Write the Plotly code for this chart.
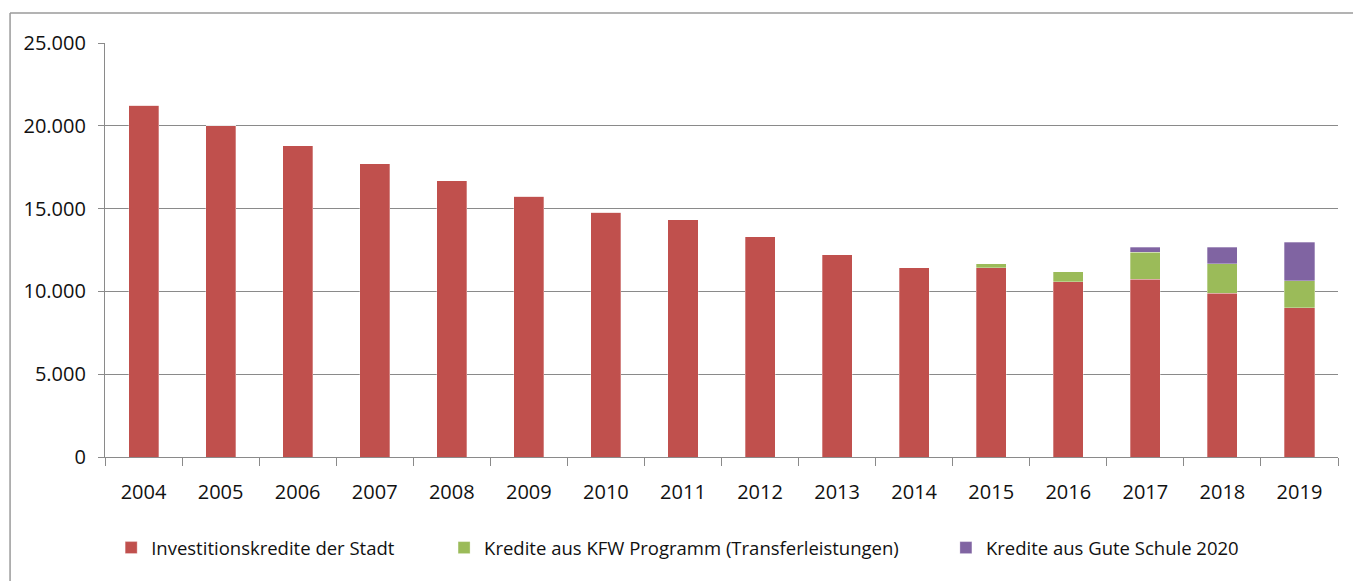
import plotly.graph_objects as go

years = [str(y) for y in range(2004, 2020)]
investitionskredite = [21250, 20000, 18800, 17700, 16680, 15740, 14790, 14330, 13290, 12200, 11430,
                       11430, 10570, 10730, 9880, 9000]
kfw = [0, 0, 0, 0, 0, 0, 0, 0, 0, 0, 0,
       250, 620, 1630, 1800, 1650]
gute_schule = [0, 0, 0, 0, 0, 0, 0, 0, 0, 0, 0,
               0, 0, 320, 1000, 2330]

names = ["Investitionskredite der Stadt",
         "Kredite aus KFW Programm (Transferleistungen)",
         "Kredite aus Gute Schule 2020"]
colors = ["#C0504D", "#9BBB59", "#8064A2"]
y_ticks = [0, 5000, 10000, 15000, 20000, 25000]

FONT = "Open Sans"
TXT = "#111111"
GRID = "#8a8a8a"

fig = go.Figure()
for vals, name, col, lg in zip([investitionskredite, kfw, gute_schule], names, colors,
                               ["legend", "legend2", "legend3"]):
    fig.add_trace(go.Bar(x=years, y=vals, name=name, showlegend=True,
                         marker=dict(color=col, line=dict(width=0.6, color="rgba(255,255,255,0.5)")),
                         legend=lg))

leg_common = dict(orientation="h", yanchor="middle", xanchor="left", y=-0.22,
                  font=dict(family=FONT, size=18.5, color=TXT), bgcolor="rgba(0,0,0,0)",
                  itemclick=False, visible=True)
fig.update_layout(
    width=1353, height=581,
    margin=dict(l=105, r=15, t=43, b=124),
    barmode="stack", bargap=0.61,
    showlegend=True,
    plot_bgcolor="white", paper_bgcolor="white",
    separators=",.",
    font=dict(family=FONT, color=TXT),
    legend=dict(x=0.005, **leg_common),
    legend2=dict(x=0.275, **leg_common),
    legend3=dict(x=0.682, **leg_common),
    xaxis=dict(type="category", showgrid=False, showline=True, linecolor=GRID, linewidth=1.2,
               ticks="outside", tickson="boundaries", ticklen=8, tickcolor=GRID,
               tickfont=dict(family=FONT, size=20, color=TXT), ticklabelstandoff=17),
    yaxis=dict(range=[0, 25000], tickvals=y_ticks, tickformat=",d", showgrid=True,
               gridcolor=GRID, gridwidth=1.2, showline=True, linecolor=GRID, linewidth=1.2,
               ticks="outside", ticklen=6, tickcolor=GRID, zeroline=False,
               tickfont=dict(family=FONT, size=20, color=TXT), ticklabelstandoff=8),
    shapes=[
        dict(type="line", xref="paper", yref="paper", x0=-0.077, x1=1.02, y0=1.0725, y1=1.0725,
             line=dict(color="#9a9a9a", width=1.5)),
        dict(type="line", xref="paper", yref="paper", x0=-0.077, x1=-0.077, y0=1.0725, y1=-0.3,
             line=dict(color="#9a9a9a", width=1.5)),
    ],
)

fig.write_html("out.html", config={"displayModeBar": False},
               post_script="document.body.style.margin='0';document.body.style.overflow='hidden';")
